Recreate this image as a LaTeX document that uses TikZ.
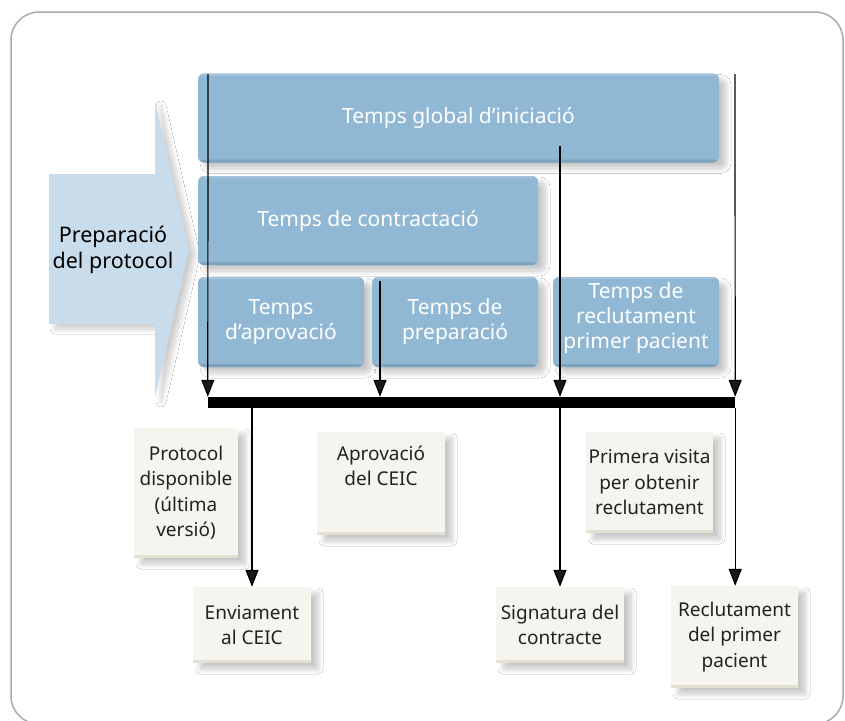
\documentclass[tikz,border=0pt]{standalone}
\usepackage{fontspec}
\setmainfont{Noto Sans}
\usetikzlibrary{arrows.meta,shadows.blur}
\definecolor{boxblue}{HTML}{90B7D3}
\definecolor{boxbluedark}{HTML}{7FA2BD}
\definecolor{boxbluelight}{HTML}{A3C4DC}
\definecolor{prepblue}{HTML}{C8DCEB}
\definecolor{cream}{HTML}{F5F4EF}
\definecolor{creamdark}{HTML}{E3E0D4}
\definecolor{framegray}{HTML}{ABABAB}
\definecolor{txt}{HTML}{222222}
\tikzset{
  softshadow/.style={blur shadow={shadow xshift=7pt, shadow yshift=-6pt, shadow blur radius=5pt, shadow opacity=22, shadow blur steps=12}},
  bluebox/.style={fill=boxblue, rounded corners=6pt, text=white, align=center,
    font=\fontsize{21}{25}\selectfont, inner sep=0pt, softshadow,
    path picture={
      \fill[boxbluedark] (path picture bounding box.south west) rectangle ([yshift=3pt]path picture bounding box.south east);
      \fill[boxbluelight] (path picture bounding box.north west) rectangle ([yshift=-2pt]path picture bounding box.north east);
    }},
  creambox/.style={fill=cream, align=center, text=txt,
    font=\fontsize{19}{25.5}\selectfont, inner sep=0pt, softshadow,
    path picture={
      \fill[creamdark] (path picture bounding box.south west) rectangle ([yshift=3pt]path picture bounding box.south east);
    }},
  plaintext/.style={align=center, text=txt, font=\fontsize{19}{25.5}\selectfont, inner sep=0pt},
  arr/.style={line width=1.2pt, -{Triangle[width=13pt,length=17pt]}},
}
\begin{document}
\begin{tikzpicture}[x=1pt,y=-1pt]
\useasboundingbox (0,0) rectangle (845,720);
\fill[white] (0,0) rectangle (845,720);
\draw[framegray, line width=1.5pt, rounded corners=28pt] (11,12) rectangle (843,724);

% preparation arrow
\path[fill=prepblue, blur shadow={shadow xshift=6pt, shadow yshift=-5pt, shadow blur radius=5pt, shadow opacity=20, shadow blur steps=12}]
  (49,174) -- (155,174) -- (155,101) -- (189,250) -- (155,397) -- (155,324) -- (49,324) -- cycle;
\node[plaintext, text=black, font=\fontsize{21.5}{26}\selectfont] (prep) at (113,250) {Preparació\\del protocol};

% blue boxes
\node[bluebox, minimum width=521pt, minimum height=89pt] (glob) at (458.5,118) {Temps global d’iniciació};
\node[bluebox, minimum width=340pt, minimum height=89pt] (contr) at (368,220.5) {Temps de contractació};
\node[bluebox, minimum width=166pt, minimum height=90pt] (aprovb) at (281,322) {Temps\\d’aprovació};
\node[bluebox, minimum width=166pt, minimum height=90pt] (prepb) at (455,322) {Temps de\\preparació};
\node[bluebox, minimum width=166pt, minimum height=90pt] (reclb) at (636,322) {};
\node[align=center, text=white, font=\fontsize{21}{25}\selectfont, inner sep=0pt] (reclt) at (636,318) {Temps de\\reclutament\\primer pacient};

% timeline bar
\node[fill=black, inner sep=0pt, minimum width=527pt, minimum height=11pt] (bar) at (471.5,402.5) {};

% cream boxes
\node[creambox, minimum width=104pt, minimum height=130pt] (proto) at (186,493) {Protocol\\disponible\\(última\\versió)};
\node[creambox, minimum width=128pt, minimum height=103pt] (aprov) at (381,483.5) {};
\node[plaintext] (aprovt) at (381,466) {Aprovació\\del CEIC};
\node[creambox, minimum width=127pt, minimum height=101pt] (primv) at (649.5,482.5) {Primera visita\\per obtenir\\reclutament};
\node[creambox, minimum width=118pt, minimum height=76pt] (env) at (252,625) {Enviament\\al CEIC};
\node[creambox, minimum width=128pt, minimum height=76pt] (sign) at (560,625) {Signatura del\\contracte};
\node[creambox, minimum width=127pt, minimum height=102pt] (recl) at (734.5,637) {Reclutament\\del primer\\pacient};

% arrows onto the bar
\coordinate (s1) at (208,74);
\coordinate (s2) at (380,281);
\coordinate (s3) at (560,146);
\coordinate (s4) at (735,74);
\draw[arr] (s1) -- (bar.north west);
\draw[arr] (s2) -- (s2 |- bar.north);
\draw[arr] (s3) -- (s3 |- bar.north);
\draw[arr] (s4) -- (bar.north east);

% arrows from the bar
\draw[arr] (env.north |- bar.south) -- (env.north);
\draw[arr] (sign.north |- bar.south) -- (sign.north);
\draw[arr] (bar.south east) -- (bar.south east |- recl.north);
\end{tikzpicture}
\end{document}
